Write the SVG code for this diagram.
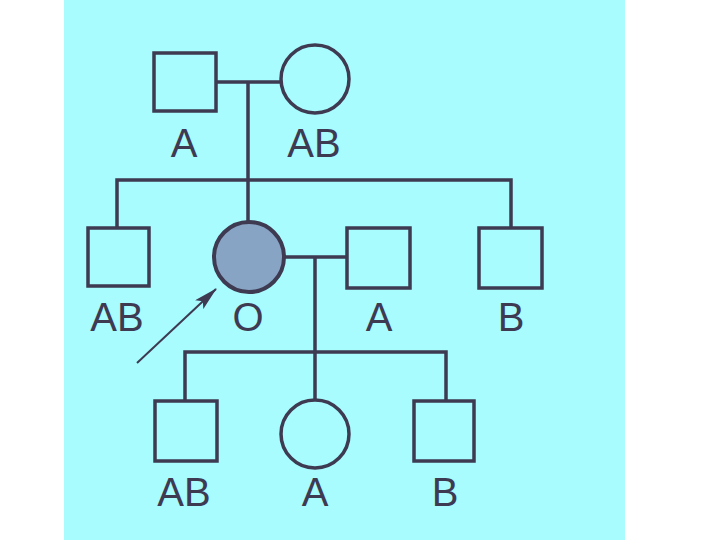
<svg xmlns="http://www.w3.org/2000/svg" width="720" height="540" viewBox="0 0 720 540">
<style>
.shape{fill:none;stroke:#3d3a52;stroke-width:3.5}
.line{fill:none;stroke:#3d3a52;stroke-width:3.5}
.lbl{font-family:"Liberation Sans",Arial,sans-serif;font-size:40px;fill:#3d3a52;text-anchor:middle}
</style>
<defs>
<marker id="ah" viewBox="0 0 24 12" refX="23" refY="6" markerWidth="24" markerHeight="12" markerUnits="userSpaceOnUse" orient="auto">
<path d="M0,0 L24,6 L0,12 L5,6 Z" fill="#3d3a52"/>
</marker>
</defs>
<rect x="0" y="0" width="720" height="540" fill="#ffffff"/>
<rect x="64" y="0" width="561" height="540" fill="#a8fcfe"/>
<g id="connectors">
<line class="line" x1="216" y1="82" x2="280" y2="82"/>
<line class="line" x1="248" y1="82" x2="248" y2="223"/>
<polyline class="line" points="117,228 117,180 511,180 511,228"/>
<line class="line" x1="285" y1="257" x2="347" y2="257"/>
<line class="line" x1="315" y1="257" x2="315" y2="400"/>
<polyline class="line" points="185,401 185,352 446,352 446,401"/>
<line x1="137" y1="363" x2="216" y2="289" stroke="#3d3a52" stroke-width="2" marker-end="url(#ah)"/>
</g>
<g id="gen1-father"><rect class="shape" x="154" y="53" width="62" height="58"/><text class="lbl" x="184" y="157">A</text></g>
<g id="gen1-mother"><circle class="shape" cx="315" cy="79" r="34"/><text class="lbl" x="314" y="157">AB</text></g>
<g id="gen2-brother1"><rect class="shape" x="88" y="228" width="61" height="58"/><text class="lbl" x="117" y="331">AB</text></g>
<g id="gen2-proband"><circle cx="249" cy="257" r="35" fill="#88a4c4" stroke="#3d3a52" stroke-width="4"/><text class="lbl" x="248" y="331">O</text></g>
<g id="gen2-spouse"><rect class="shape" x="347" y="228" width="63" height="60"/><text class="lbl" x="379" y="331">A</text></g>
<g id="gen2-brother2"><rect class="shape" x="479" y="228" width="63" height="60"/><text class="lbl" x="511" y="331">B</text></g>
<g id="gen3-son1"><rect class="shape" x="155" y="401" width="62" height="60"/><text class="lbl" x="184" y="506">AB</text></g>
<g id="gen3-daughter"><circle class="shape" cx="315" cy="434" r="34"/><text class="lbl" x="315" y="506">A</text></g>
<g id="gen3-son2"><rect class="shape" x="414" y="401" width="60" height="60"/><text class="lbl" x="445" y="506">B</text></g>
</svg>
